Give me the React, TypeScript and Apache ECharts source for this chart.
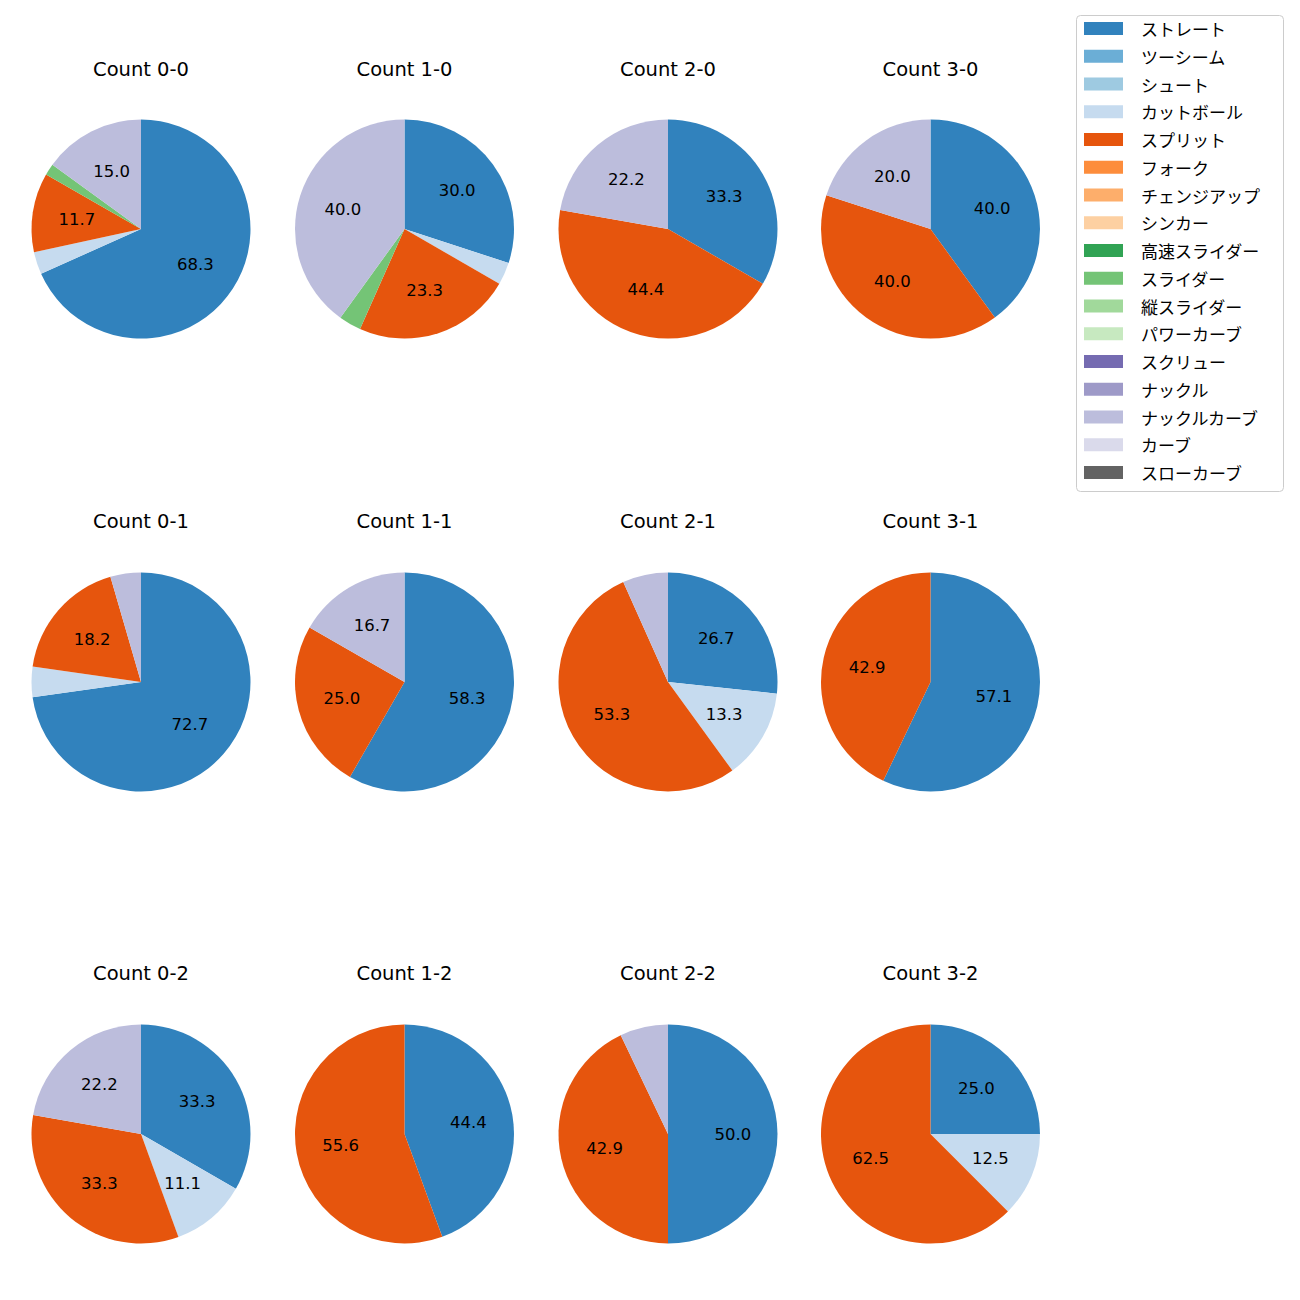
import React, { useEffect, useRef } from "react";
import * as echarts from "echarts";

const pitchTypes = [
  "ストレート", "ツーシーム", "シュート", "カットボール", "スプリット", "フォーク",
  "チェンジアップ", "シンカー", "高速スライダー", "スライダー", "縦スライダー",
  "パワーカーブ", "スクリュー", "ナックル", "ナックルカーブ", "カーブ", "スローカーブ",
];
const pitchColors = [
  "#3182bd", "#6baed6", "#9ecae1", "#c6dbef", "#e6550d", "#fd8d3c",
  "#fdae6b", "#fdd0a2", "#31a354", "#74c476", "#a1d99b", "#c7e9c0",
  "#756bb1", "#9e9ac8", "#bcbddc", "#dadaeb", "#636363",
];

const countTitles = [
  "Count 0-0", "Count 1-0", "Count 2-0", "Count 3-0",
  "Count 0-1", "Count 1-1", "Count 2-1", "Count 3-1",
  "Count 0-2", "Count 1-2", "Count 2-2", "Count 3-2",
];

// share (%) per pitch type, in pitchTypes order
const count00 = [68.3, 0, 0, 3.3, 11.7, 0, 0, 0, 0, 1.7, 0, 0, 0, 0, 15.0, 0, 0];
const count10 = [30.0, 0, 0, 3.3, 23.3, 0, 0, 0, 0, 3.3, 0, 0, 0, 0, 40.0, 0, 0];
const count20 = [33.3, 0, 0, 0, 44.4, 0, 0, 0, 0, 0, 0, 0, 0, 0, 22.2, 0, 0];
const count30 = [40.0, 0, 0, 0, 40.0, 0, 0, 0, 0, 0, 0, 0, 0, 0, 20.0, 0, 0];
const count01 = [72.7, 0, 0, 4.5, 18.2, 0, 0, 0, 0, 0, 0, 0, 0, 0, 4.5, 0, 0];
const count11 = [58.3, 0, 0, 0, 25.0, 0, 0, 0, 0, 0, 0, 0, 0, 0, 16.7, 0, 0];
const count21 = [26.7, 0, 0, 13.3, 53.3, 0, 0, 0, 0, 0, 0, 0, 0, 0, 6.7, 0, 0];
const count31 = [57.1, 0, 0, 0, 42.9, 0, 0, 0, 0, 0, 0, 0, 0, 0, 0, 0, 0];
const count02 = [33.3, 0, 0, 11.1, 33.3, 0, 0, 0, 0, 0, 0, 0, 0, 0, 22.2, 0, 0];
const count12 = [44.4, 0, 0, 0, 55.6, 0, 0, 0, 0, 0, 0, 0, 0, 0, 0, 0, 0];
const count22 = [50.0, 0, 0, 0, 42.9, 0, 0, 0, 0, 0, 0, 0, 0, 0, 7.1, 0, 0];
const count32 = [25.0, 0, 0, 12.5, 62.5, 0, 0, 0, 0, 0, 0, 0, 0, 0, 0, 0, 0];

const allCounts = [
  count00, count10, count20, count30,
  count01, count11, count21, count31,
  count02, count12, count22, count32,
];

const FONT = '"Noto Sans CJK JP", "Noto Sans", sans-serif';
const LATIN = '"DejaVu Sans", "Noto Sans CJK JP", sans-serif';
const colX = [141, 404.5, 668, 930.5];
const rowY = [229, 682, 1134];
const titleY = [69, 521, 973];
const R = 109.5;

export default function App() {
  const ref = useRef<HTMLDivElement>(null);
  useEffect(() => {
    document.body.style.margin = "0";
    const chart = echarts.init(ref.current!, null, { renderer: "svg" });
    const series: any[] = [];
    const graphics: any[] = [];
    allCounts.forEach((vals, i) => {
      const cx = colX[i % 4];
      const cy = rowY[Math.floor(i / 4)];
      const data = pitchTypes.map((name, k) => ({
        name,
        value: vals[k],
        itemStyle: { color: pitchColors[k] },
      }));
      series.push({
        type: "pie",
        center: [cx, cy],
        radius: [0, R],
        startAngle: 90,
        clockwise: true,
        silent: true,
        avoidLabelOverlap: false,
        label: { show: false },
        labelLine: { show: false },
        itemStyle: { borderWidth: 0 },
        data,
      });
      series.push({
        type: "pie",
        center: [cx, cy],
        radius: [R * 0.13, R],
        startAngle: 90,
        clockwise: true,
        silent: true,
        avoidLabelOverlap: false,
        itemStyle: { color: "rgba(0,0,0,0)", borderWidth: 0 },
        label: {
          show: true,
          position: "inside",
          color: "#000",
          fontFamily: LATIN,
          fontSize: 16.5,
          formatter: (p: any) => (p.value >= 10 ? p.value.toFixed(1) : ""),
        },
        labelLine: { show: false },
        data: pitchTypes.map((name, k) => ({ name, value: vals[k] })),
      });
      graphics.push({
        type: "text",
        x: cx,
        y: titleY[Math.floor(i / 4)],
        style: {
          text: countTitles[i],
          align: "center",
          verticalAlign: "middle",
          fontFamily: LATIN,
          fontSize: 19.5,
          fill: "#000",
        },
      });
    });
    graphics.push({
      type: "rect",
      shape: { x: 1076.5, y: 15.5, width: 207, height: 476, r: 4 },
      style: { fill: "#fff", stroke: "#cccccc", lineWidth: 1 },
      z: -1,
    });
    chart.setOption({
      animation: false,
      backgroundColor: "#fff",
      graphic: graphics,
      legend: {
        orient: "vertical",
        left: 1084,
        top: 20,
        padding: 0,
        selectedMode: false,
        icon: "rect",
        itemWidth: 39,
        itemHeight: 13,
        itemGap: 10.75,
        textStyle: {
          fontFamily: FONT,
          fontSize: 17,
          lineHeight: 17,
          color: "#000",
          padding: [0, 0, 0, 13],
        },
        data: pitchTypes.map((name, k) => ({ name, itemStyle: { color: pitchColors[k] } })),
      },
      series,
    });
    return () => chart.dispose();
  }, []);
  return <div ref={ref} style={{ width: 1300, height: 1300 }} />;
}
